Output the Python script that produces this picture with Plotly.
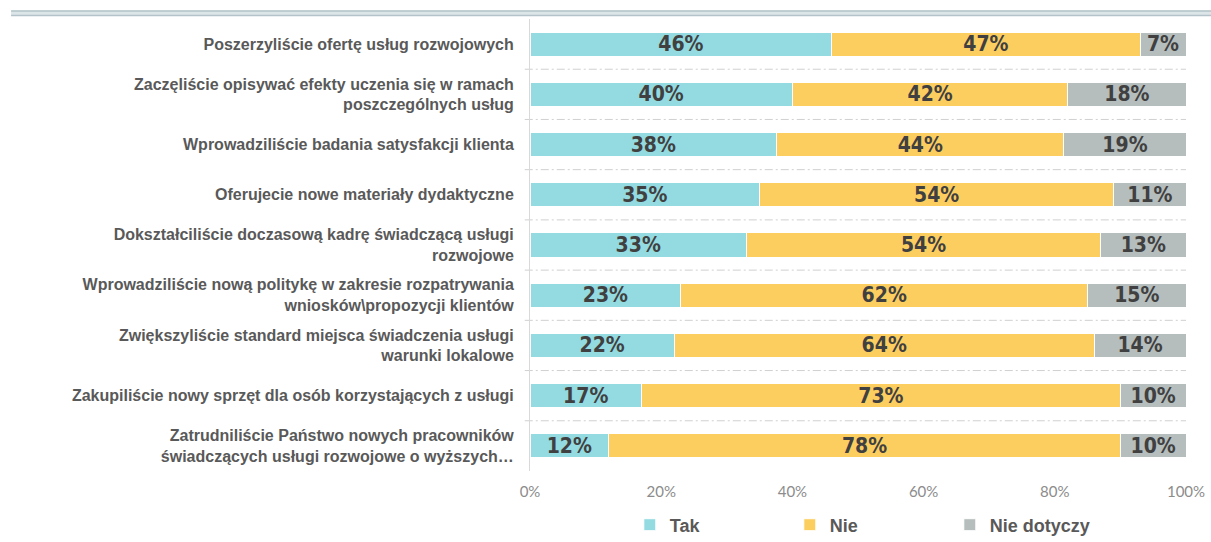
import plotly.graph_objects as go

categories = [
    "Poszerzyliście ofertę usług rozwojowych",
    "Zaczęliście opisywać efekty uczenia się w ramach<br>poszczególnych usług",
    "Wprowadziliście badania satysfakcji klienta",
    "Oferujecie nowe materiały dydaktyczne",
    "Dokształciliście doczasową kadrę świadczącą usługi<br>rozwojowe",
    "Wprowadziliście nową politykę w zakresie rozpatrywania<br>wniosków\\propozycji klientów",
    "Zwiększyliście standard miejsca świadczenia usługi<br>warunki lokalowe",
    "Zakupiliście nowy sprzęt dla osób korzystających z usługi",
    "Zatrudniliście Państwo nowych pracowników<br>świadczących usługi rozwojowe o wyższych…",
]
tak = [46, 40, 37.6, 35, 33, 23, 22, 17, 12]
nie = [47, 42, 43.8, 54, 54, 62, 64, 73, 78]
nie_dotyczy = [7, 18, 18.6, 11, 13, 15, 14, 10, 10]
x_ticks = [0, 20, 40, 60, 80, 100]
x_tick_labels = [f"{v}%" for v in x_ticks]

series = [
    ("Tak", tak, "#93DBE1"),
    ("Nie", nie, "#FCCE60"),
    ("Nie dotyczy", nie_dotyczy, "#B5BDBD"),
]

fig = go.Figure()
for name, vals, color in series:
    fig.add_trace(go.Bar(
        y=categories, x=vals, name=name, orientation="h",
        marker=dict(color=color, line=dict(color="#FFFFFF", width=1)),
        texttemplate="%{x:.0f}%", textposition="inside",
        insidetextanchor="middle", textangle=0,
        textfont=dict(family="DejaVu Sans Condensed, Roboto Condensed, Roboto",
                      size=21, color="#404040", weight="bold"),
    ))

# dash-dot separators between category bands
shapes = []
for i in range(len(categories) - 1):
    shapes.append(dict(
        type="line", xref="paper", yref="y", x0=-0.008, x1=1.0,
        y0=i + 0.5, y1=i + 0.5,
        line=dict(color="#D0D0D0", width=1, dash="8px,3px,2px,3px"),
        layer="below",
    ))

# double rule across the top
shapes.append(dict(type="rect", xref="paper", yref="paper",
                   x0=-0.791, x1=1.04, y0=1 + 8.5 / 452, y1=1 + 3 / 452,
                   fillcolor="#DCE5E8", line=dict(width=0), layer="below"))
for yy in (1 + 8 / 452, 1 + 3.6 / 452):
    shapes.append(dict(type="line", xref="paper", yref="paper",
                       x0=-0.791, x1=1.04, y0=yy, y1=yy,
                       line=dict(color="#B3C3C9", width=1.5)))

fig.update_layout(
    barmode="stack",
    bargap=0.52,
    width=1211, height=542,
    margin=dict(l=530, r=25, t=19, b=71, autoexpand=False),
    paper_bgcolor="#FFFFFF", plot_bgcolor="#FFFFFF",
    uniformtext=dict(minsize=21, mode="show"),
    shapes=shapes,
    showlegend=True,
    legend=dict(orientation="h", x=0.518, xanchor="center",
                y=-54 / 452, yanchor="middle",
                entrywidth=115, entrywidthmode="pixels",
                itemwidth=30, traceorder="normal",
                font=dict(family="Liberation Sans", size=18, color="#595959",
                          weight="bold")),
    xaxis=dict(range=[0, 100], tickmode="array", tickvals=x_ticks,
               ticktext=x_tick_labels, ticklabelstandoff=10,
               showgrid=False, zeroline=False, showline=False,
               tickfont=dict(family="Lato", size=15, color="#8C8C8C")),
    yaxis=dict(autorange="reversed", showgrid=False, zeroline=False,
               showline=True, linecolor="#D9D9D9", linewidth=1,
               ticks="", ticklabelstandoff=12,
               tickfont=dict(family="Liberation Sans", size=16, color="#595959",
                             weight="bold")),
)

fig.write_html("out.html")
